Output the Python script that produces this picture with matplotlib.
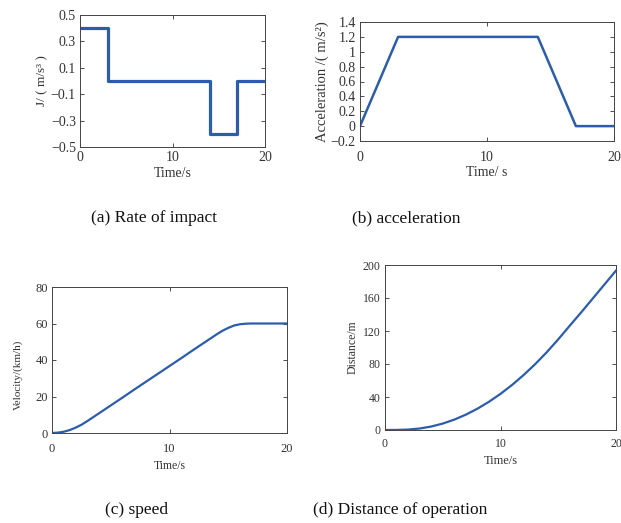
import matplotlib
matplotlib.use("Agg")
import matplotlib.pyplot as plt

plt.rcParams['font.family'] = ['Liberation Serif', 'DejaVu Serif']
plt.rcParams['axes.unicode_minus'] = True

# Data
jerk_t = [0, 3, 3, 14, 14, 17, 17, 20]
jerk_v = [0.4, 0.4, 0, 0, -0.4, -0.4, 0, 0]

acc_t = [0, 3, 14, 17, 20]
acc_v = [0, 1.2, 1.2, 0, 0]

vel_t = [0, 0.5, 1, 1.5, 2, 2.5, 3, 4, 5, 6, 7, 8, 9, 10, 11, 12, 13, 14, 14.5, 15, 15.5, 16, 16.5, 17, 18, 19, 20]
vel_v = [0, 0.2, 0.7, 1.6, 2.9, 4.5, 6.5, 10.8, 15.1, 19.4, 23.8, 28.1, 32.4, 36.7, 41.0, 45.4, 49.7, 54.0, 56.0, 57.6, 58.9, 59.6, 59.9, 60.0, 60.0, 60.0, 60.0]

dist_t = list(range(0, 21))
dist_v = [0, 0.07, 0.53, 1.8, 4.2, 7.8, 12.6, 18.6, 25.8, 34.2, 43.8, 54.6, 66.6, 79.8, 94.2, 109.9, 126.5, 142.8, 159.6, 176.4, 193.2]

W, H = 621, 523
fig = plt.figure(figsize=(W / 100, H / 100), dpi=100)
color = '#2b5dab'
frame = '#444444'
tc = '#333333'

def mk(l, t, r, b):
    return fig.add_axes([l / W, 1 - b / H, (r - l) / W, (b - t) / H])

def style(ax, fs, xpad=3):
    ax.tick_params(direction='in', top=True, right=True, length=3, width=0.6,
                   labelsize=fs, colors=tc, pad=3)
    ax.tick_params(axis='x', pad=xpad)
    for s in ax.spines.values():
        s.set_color(frame)
        s.set_linewidth(0.7)

# (a)
ax = mk(80, 15, 265, 147)
ax.plot(jerk_t, jerk_v, color=color, lw=2.3)
ax.set_xlim(0, 20); ax.set_ylim(-0.5, 0.5)
ax.set_xticks([0, 10, 20])
ax.set_yticks([-0.5, -0.3, -0.1, 0.1, 0.3, 0.5])
ax.set_yticklabels(['\u22120.5', '\u22120.3', '\u22120.1', '0.1', '0.3', '0.5'])
style(ax, 10, xpad=3)
ax.set_xlabel('Time/s', fontsize=10, color=tc, labelpad=2)
ax.set_ylabel('J/ ( m/s\u00b3 )', fontsize=9.5, color=tc, labelpad=2)

# (b)
ax = mk(360, 22, 614, 141)
ax.plot(acc_t, acc_v, color=color, lw=1.8)
ax.set_xlim(0, 20); ax.set_ylim(-0.2, 1.4)
ax.set_xticks([0, 10, 20])
yt = [-0.2, 0, 0.2, 0.4, 0.6, 0.8, 1, 1.2, 1.4]
ax.set_yticks(yt)
ax.set_yticklabels(['\u22120.2', '0', '0.2', '0.4', '0.6', '0.8', '1', '1.2', '1.4'])
style(ax, 10, xpad=7)
ax.set_xlabel('Time/ s', fontsize=10, color=tc, labelpad=2)
ax.set_ylabel('Acceleration /( m/s\u00b2)', fontsize=10.5, color=tc, labelpad=1)

# (c)
ax = mk(52, 287, 287, 433)
ax.plot(vel_t, vel_v, color=color, lw=1.6)
ax.set_xlim(0, 20); ax.set_ylim(0, 80)
ax.set_xticks([0, 10, 20]); ax.set_yticks([0, 20, 40, 60, 80])
style(ax, 9, xpad=7)
ax.set_xlabel('Time/s', fontsize=8.5, color=tc, labelpad=4)
ax.set_ylabel('Velocity/(km/h)', fontsize=8, color=tc)
ax.yaxis.set_label_coords(-0.125, 0.40)

# (d)
ax = mk(385, 265, 616, 430)
ax.plot(dist_t, dist_v, color=color, lw=1.6)
ax.set_xlim(0, 20); ax.set_ylim(0, 200)
ax.set_xticks([0, 10, 20]); ax.set_yticks([0, 40, 80, 120, 160, 200])
style(ax, 8.5, xpad=6)
ax.set_xlabel('Time/s', fontsize=9, color=tc, labelpad=3)
ax.set_ylabel('Distance/m', fontsize=8.5, color=tc, labelpad=3)

cap = dict(fontsize=12.5, ha='center', va='center', color='#111111')
fig.text(154 / W, 1 - 218 / H, '(a) Rate of impact', **cap)
fig.text(406 / W, 1 - 218 / H, '(b) acceleration', **cap)
fig.text(137 / W, 1 - 510 / H, '(c) speed', **cap)
fig.text(400 / W, 1 - 510 / H, '(d) Distance of operation', **cap)

fig.savefig('out.png', dpi=100)
